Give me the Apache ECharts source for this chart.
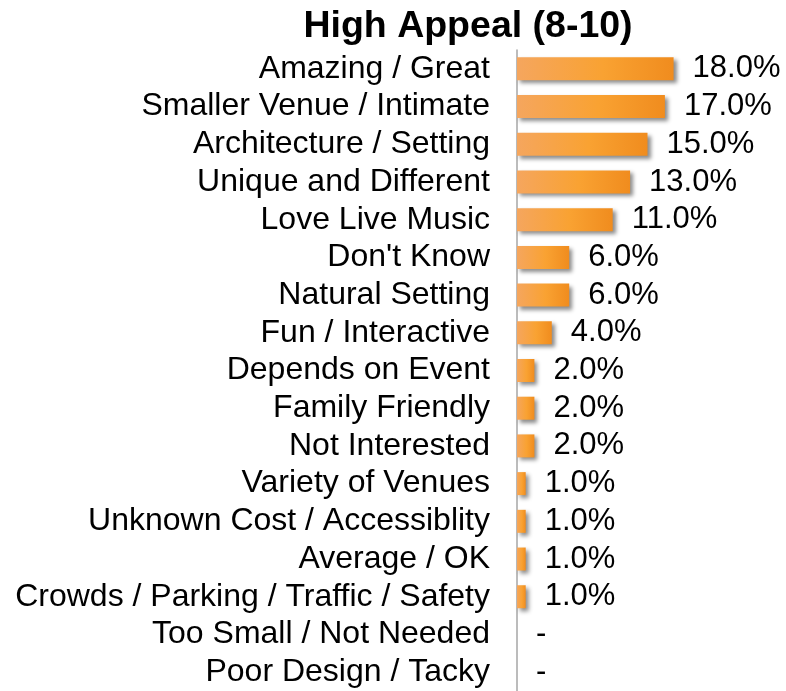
<!DOCTYPE html>
<html>
<head>
<meta charset="utf-8">
<script src="https://cdn.jsdelivr.net/npm/echarts@6/dist/echarts.min.js"></script>
<style>
  html, body { margin: 0; padding: 0; background: #fff; }
  #chart1 { width: 786px; height: 691px; }
</style>
</head>
<body>
<div id="chart1"></div>
<script>
var categories = ['Amazing / Great', 'Smaller Venue / Intimate', 'Architecture / Setting',
    'Unique and Different', 'Love Live Music', "Don't Know", 'Natural Setting',
    'Fun / Interactive', 'Depends on Event', 'Family Friendly', 'Not Interested',
    'Variety of Venues', 'Unknown Cost / Accessiblity', 'Average / OK',
    'Crowds / Parking / Traffic / Safety', 'Too Small / Not Needed', 'Poor Design / Tacky'];
var values = [18, 17, 15, 13, 11, 6, 6, 4, 2, 2, 2, 1, 1, 1, 1, 0, 0];

var myChart = echarts.init(document.getElementById('chart1'));

myChart.setOption({
    animation: false,
    title: {
        text: 'High Appeal (8-10)',
        left: 463,
        top: 3,
        textAlign: 'center',
        textStyle: { fontFamily: 'Liberation Sans', fontSize: 37.5, fontWeight: 'bold', color: '#000' }
    },
    grid: { left: 517, top: 50, bottom: 0, right: 95 },
    xAxis: {
        type: 'value',
        min: 0,
        max: 20,
        show: false
    },
    yAxis: {
        type: 'category',
        inverse: true,
        data: categories,
        axisLine: { lineStyle: { color: '#A6A6A6', width: 1.5 } },
        axisTick: { length: 8, lineStyle: { color: '#A6A6A6', width: 1.5 } },
        axisLabel: { interval: 0, margin: 27, fontFamily: 'Liberation Sans', fontSize: 32, color: '#000' }
    },
    series: [{
        type: 'bar',
        data: values,
        barWidth: 23,
        itemStyle: {
            color: new echarts.graphic.LinearGradient(0, 0, 1, 0, [
                { offset: 0, color: '#F5A65E' },
                { offset: 0.55, color: '#F9A232' },
                { offset: 1, color: '#F08C1E' }
            ]),
            shadowColor: 'rgba(0,0,0,0.45)',
            shadowBlur: 4,
            shadowOffsetX: 3,
            shadowOffsetY: 3
        },
        label: {
            show: true,
            position: 'right',
            distance: 19,
            fontFamily: 'Liberation Sans',
            fontSize: 31,
            color: '#000',
            formatter: function (p) {
                return p.value ? p.value.toFixed(1) + '%' : '-';
            }
        }
    }]
});
</script>
</body>
</html>
